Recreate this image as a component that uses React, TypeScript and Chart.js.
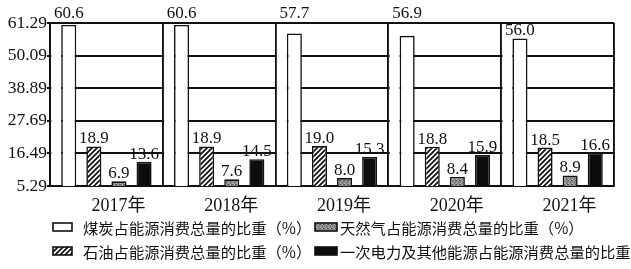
import React, { useEffect, useRef } from 'react';
import { Chart, registerables } from 'chart.js';

Chart.register(...registerables);

// ---- data ----
const years = ['2017年', '2018年', '2019年', '2020年', '2021年'];
const coal = [60.6, 60.6, 57.7, 56.9, 56.0];
const oil = [18.9, 18.9, 19.0, 18.8, 18.5];
const gas = [6.9, 7.6, 8.0, 8.4, 8.9];
const power = [13.6, 14.5, 15.3, 15.9, 16.6];
const yTicks = [5.29, 16.49, 27.69, 38.89, 50.09, 61.29];
const seriesNames = [
  '煤炭占能源消费总量的比重（%）',
  '石油占能源消费总量的比重（%）',
  '天然气占能源消费总量的比重（%）',
  '一次电力及其他能源占能源消费总量的比重（%）',
];

const INK = '#111';
const NUM_FONT = '"Liberation Serif", "Noto Sans CJK SC", serif';
const CJK_FONT = '"Noto Sans CJK SC", sans-serif';

function makeHatch(): CanvasPattern | string {
  const c = document.createElement('canvas');
  c.width = 5; c.height = 5;
  const g = c.getContext('2d');
  if (!g) return '#888';
  g.fillStyle = '#fff';
  g.fillRect(0, 0, 5, 5);
  g.strokeStyle = INK;
  g.lineWidth = 1.8;
  g.beginPath();
  g.moveTo(-1, 6); g.lineTo(6, -1);
  g.moveTo(-1, 1); g.lineTo(1, -1);
  g.moveTo(4, 6); g.lineTo(6, 4);
  g.stroke();
  return g.createPattern(c, 'repeat') || '#888';
}

function makeStipple(): CanvasPattern | string {
  const c = document.createElement('canvas');
  c.width = 4; c.height = 4;
  const g = c.getContext('2d');
  if (!g) return '#888';
  g.fillStyle = '#8a8a8a';
  g.fillRect(0, 0, 4, 4);
  g.fillStyle = '#555';
  g.fillRect(0, 0, 1, 1); g.fillRect(2, 2, 1, 1); g.fillRect(3, 0, 1, 1);
  g.fillStyle = '#b5b5b5';
  g.fillRect(1, 2, 1, 1); g.fillRect(2, 0, 1, 1); g.fillRect(0, 3, 1, 1);
  return g.createPattern(c, 'repeat') || '#888';
}

const whiteBg = {
  id: 'whiteBg',
  beforeDraw(chart: any) {
    const { ctx, width, height } = chart;
    ctx.save();
    ctx.fillStyle = '#fff';
    ctx.fillRect(0, 0, width, height);
    ctx.restore();
  },
};

// gridlines are interrupted to the left of the coal bars in the reference
const gapPlugin = {
  id: 'gapPlugin',
  beforeDatasetsDraw(chart: any) {
    const { ctx, chartArea } = chart;
    const xs = chart.scales.x;
    const meta = chart.getDatasetMeta(0);
    const half = (xs.getPixelForValue(1) - xs.getPixelForValue(0)) / 2;
    ctx.save();
    ctx.fillStyle = '#fff';
    meta.data.forEach((bar: any, i: number) => {
      const left = xs.getPixelForValue(i) - half + 1.3;
      const right = bar.x - bar.width / 2;
      ctx.fillRect(left, chartArea.top + 1.2, right - left, chartArea.bottom - chartArea.top - 2.4);
    });
    ctx.restore();
  },
};

const valueLabels = {
  id: 'valueLabels',
  afterDatasetsDraw(chart: any) {
    const { ctx, chartArea } = chart;
    ctx.save();
    ctx.font = '17px ' + NUM_FONT;
    ctx.fillStyle = INK;
    ctx.textAlign = 'center';
    ctx.textBaseline = 'alphabetic';
    chart.data.datasets.forEach((ds: any, di: number) => {
      const meta = chart.getDatasetMeta(di);
      meta.data.forEach((bar: any, i: number) => {
        const v = ds.data[i];
        let base = bar.y - 3;
        if (base - 11 < chartArea.top - 0.5) base = chartArea.top - 5;
        ctx.fillText(Number(v).toFixed(1), bar.x, base);
      });
    });
    ctx.restore();
  },
};

const legendPlugin = {
  id: 'customLegend',
  afterDraw(chart: any) {
    const { ctx } = chart;
    const ds = chart.data.datasets;
    // order: coal, gas / oil, power
    const cells = [
      { d: 0, col: 0, row: 0 },
      { d: 2, col: 1, row: 0 },
      { d: 1, col: 0, row: 1 },
      { d: 3, col: 1, row: 1 },
    ];
    const cols = [
      { box: 53, w: 19, text: 83 },
      { box: 315, w: 22, text: 340 },
    ];
    const rows = [227, 251];
    ctx.save();
    ctx.font = '15.3px ' + CJK_FONT;
    ctx.textBaseline = 'middle';
    ctx.textAlign = 'left';
    cells.forEach((c) => {
      const col = cols[c.col];
      const y = rows[c.row];
      ctx.fillStyle = ds[c.d].backgroundColor;
      ctx.fillRect(col.box, y - 4, col.w, 8);
      ctx.strokeStyle = INK;
      ctx.lineWidth = 1.6;
      ctx.strokeRect(col.box, y - 4, col.w, 8);
      ctx.fillStyle = INK;
      ctx.fillText(ds[c.d].label, col.text, y + 1);
    });
    ctx.restore();
  },
};

export default function App() {
  const ref = useRef<HTMLCanvasElement | null>(null);

  useEffect(() => {
    if (!ref.current) return;
    const hatch = makeHatch();
    const stipple = makeStipple();
    const common = {
      borderColor: INK,
      borderWidth: 1.6,
      categoryPercentage: 0.89,
      barPercentage: 0.6,
    };
    const chart = new Chart(ref.current, {
      type: 'bar',
      data: {
        labels: years,
        datasets: [
          { label: seriesNames[0], data: coal, backgroundColor: '#fff', ...common },
          { label: seriesNames[1], data: oil, backgroundColor: hatch as any, ...common },
          { label: seriesNames[2], data: gas, backgroundColor: stipple as any, ...common },
          { label: seriesNames[3], data: power, backgroundColor: '#0d0d0d', ...common },
        ],
      },
      options: {
        animation: false,
        responsive: false,
        devicePixelRatio: 1,
        layout: { padding: { top: 23, right: 17, left: 0, bottom: 48 } },
        plugins: {
          legend: { display: false },
          tooltip: { enabled: false },
        },
        scales: {
          x: {
            type: 'category',
            offset: true,
            grid: { offset: true, color: INK, lineWidth: 1.9, drawTicks: false },
            border: { color: INK, width: 1.9 },
            ticks: {
              color: INK,
              font: { family: NUM_FONT, size: 18 },
              padding: 9,
              labelOffset: 12,
              maxRotation: 0,
              autoSkip: false,
            },
            afterFit: (s: any) => { s.height = 35; },
          },
          y: {
            min: yTicks[0],
            max: yTicks[yTicks.length - 1],
            afterBuildTicks: (s: any) => { s.ticks = yTicks.map((v) => ({ value: v })); },
            grid: { color: INK, lineWidth: 1.9, tickLength: 3 },
            border: { color: INK, width: 1.9 },
            ticks: {
              color: INK,
              font: { family: NUM_FONT, size: 17.5 },
              padding: 0,
              callback: (v: any) => Number(v).toFixed(2),
            },
            afterFit: (s: any) => { s.width = 50; },
          },
        },
      },
      plugins: [whiteBg, gapPlugin, valueLabels, legendPlugin],
    } as any);
    return () => chart.destroy();
  }, []);

  return (
    <div style={{ position: 'absolute', left: 0, top: 0, width: 631, height: 269 }}>
      <canvas ref={ref} width={631} height={269} style={{ width: 631, height: 269, display: 'block' }} />
    </div>
  );
}
